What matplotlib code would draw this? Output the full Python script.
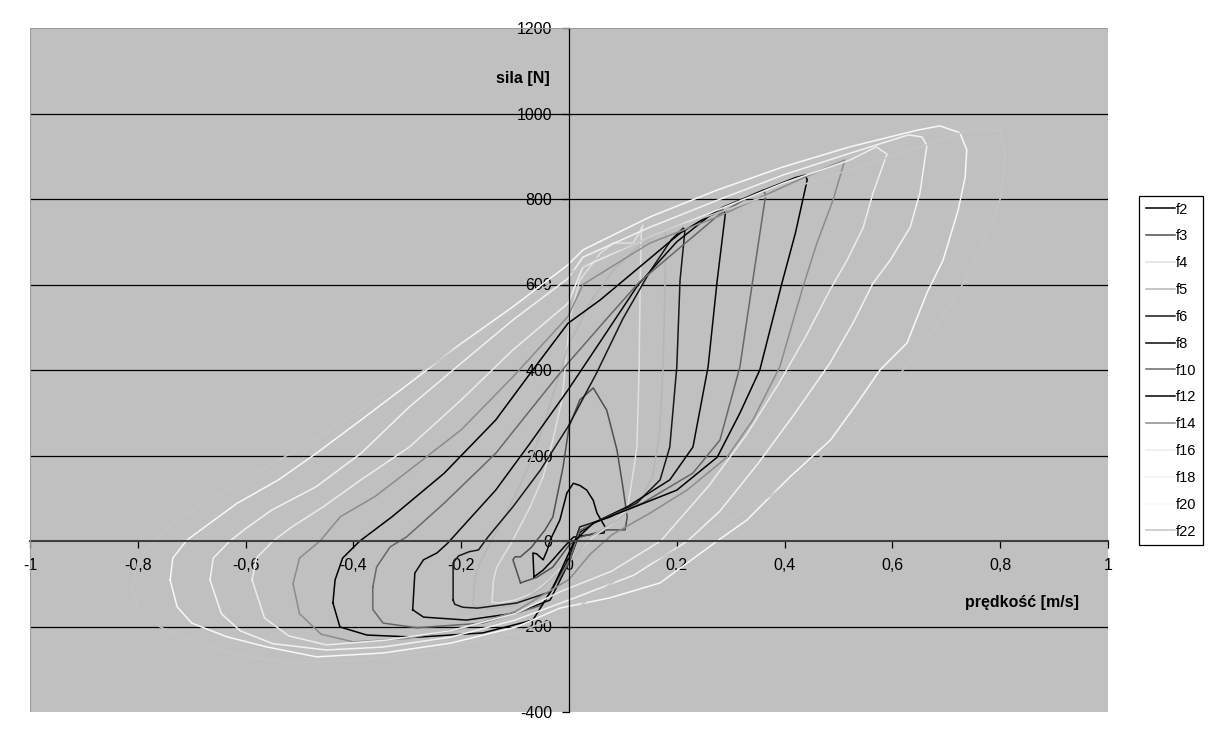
import numpy as np
import matplotlib.pyplot as plt
from matplotlib.ticker import FuncFormatter
from matplotlib.patches import Rectangle

plt.rcParams['font.family'] = ['Liberation Sans', 'DejaVu Sans']

# velocity [m/s] / force [N] loops
f2_v = [-0.065, -0.067, -0.060, -0.048, -0.040, -0.035, -0.017, -0.004, 0.008, 0.020, 0.033, 0.045,
        0.052, 0.067, 0.065, 0.040, 0.008, -0.010, -0.030, -0.048, -0.065]
f2_F = [-84, -28, -30, -44, -20, 2, 49, 112, 135, 130, 119, 95, 65, 33, 19, 15, 9, -15, -44, -68, -84]

f3_v = [-0.090, -0.104, -0.100, -0.090, -0.070, -0.045, -0.030, -0.011, 0.000, 0.020, 0.045, 0.070,
        0.089, 0.100, 0.108, 0.104, 0.070, 0.020, 0.000, -0.030, -0.060, -0.090]
f3_F = [-98, -44, -37, -37, -15, 25, 56, 173, 267, 330, 358, 306, 213, 126, 56, 26, 26, 9, -10, -61, -85, -98]

f4_v = [-0.143, -0.140, -0.134, -0.104, -0.072, -0.048, -0.030, -0.013, -0.004, 0.002, 0.020, 0.058,
        0.082, 0.119, 0.130, 0.137, 0.134, 0.132, 0.130, 0.126, 0.117, 0.108, 0.080, 0.040, 0.000,
        -0.040, -0.067, -0.100, -0.130, -0.143]
f4_F = [-143, -91, -61, 2, 80, 150, 236, 330, 447, 524, 610, 673, 697, 697, 720, 739, 720, 600, 400,
        220, 143, 73, 40, 5, -45, -95, -122, -138, -145, -143]

f5_v = [-0.178, -0.175, -0.165, -0.140, -0.110, -0.080, -0.050, -0.025, 0.000, 0.040, 0.080, 0.120,
        0.160, 0.178, 0.180, 0.178, 0.175, 0.168, 0.155, 0.130, 0.090, 0.040, 0.000, -0.050, -0.100,
        -0.150, -0.178]
f5_F = [-150, -90, -50, 10, 80, 160, 260, 360, 460, 560, 630, 680, 715, 728, 710, 600, 420, 250, 150,
        90, 50, 10, -50, -110, -150, -160, -150]

f6_v = [-0.215, -0.215, -0.205, -0.185, -0.168, -0.150, -0.104, -0.053, -0.002, 0.050, 0.100, 0.150,
        0.190, 0.212, 0.215, 0.206, 0.200, 0.187, 0.169, 0.126, 0.076, 0.020, 0.000, -0.035, -0.097,
        -0.170, -0.197, -0.212, -0.215]
f6_F = [-138, -51, -35, -25, -21, 10, 80, 166, 267, 390, 520, 630, 705, 732, 725, 610, 407, 220, 143,
        89, 56, 33, -40, -119, -145, -157, -155, -148, -138]

f8_v = [-0.290, -0.286, -0.270, -0.245, -0.225, -0.200, -0.136, -0.072, -0.002, 0.060, 0.128, 0.200,
        0.260, 0.286, 0.290, 0.275, 0.258, 0.230, 0.187, 0.108, 0.050, 0.020, 0.000, -0.035, -0.097,
        -0.190, -0.270, -0.290]
f8_F = [-161, -75, -44, -28, -5, 30, 119, 229, 353, 470, 599, 700, 760, 774, 765, 610, 407, 220, 143,
        80, 45, 20, -50, -138, -168, -185, -178, -161]

f10_v = [-0.364, -0.357, -0.332, -0.301, -0.232, -0.136, -0.072, -0.002, 0.070, 0.130, 0.200, 0.280,
         0.340, 0.360, 0.365, 0.341, 0.317, 0.280, 0.230, 0.137, 0.060, 0.020, 0.000, -0.050, -0.160,
         -0.282, -0.345, -0.364, -0.364]
f10_F = [-108, -61, -14, 10, 88, 205, 306, 416, 520, 605, 680, 765, 810, 821, 810, 610, 407, 236, 159,
         89, 50, 25, -50, -150, -192, -203, -192, -160, -108]

f12_v = [-0.438, -0.434, -0.420, -0.388, -0.328, -0.232, -0.136, -0.072, -0.002, 0.058, 0.132, 0.206,
         0.286, 0.360, 0.420, 0.438, 0.442, 0.420, 0.395, 0.354, 0.317, 0.275, 0.200, 0.108, 0.045,
         0.010, -0.030, -0.067, -0.160, -0.282, -0.375, -0.425, -0.438]
f12_F = [-145, -91, -40, 0, 57, 158, 283, 392, 509, 564, 642, 720, 781, 820, 850, 856, 845, 720, 603,
         400, 299, 196, 119, 73, 42, 0, -110, -185, -215, -225, -220, -201, -145]

f14_v = [-0.512, -0.500, -0.462, -0.424, -0.360, -0.296, -0.200, -0.104, -0.002, 0.026, 0.150, 0.275,
         0.397, 0.480, 0.512, 0.508, 0.490, 0.460, 0.434, 0.391, 0.341, 0.293, 0.220, 0.150, 0.080,
         0.040, 0.000, -0.100, -0.200, -0.300, -0.400, -0.460, -0.500, -0.512]
f14_F = [-100, -40, 0, 57, 104, 166, 260, 384, 525, 600, 697, 758, 828, 875, 891, 875, 798, 697, 594,
         407, 283, 196, 120, 65, 15, -30, -90, -165, -205, -228, -236, -218, -170, -100]

f16_v = [-0.588, -0.580, -0.549, -0.514, -0.456, -0.386, -0.296, -0.200, -0.104, -0.002, 0.026, 0.150,
         0.275, 0.397, 0.521, 0.570, 0.590, 0.564, 0.546, 0.516, 0.484, 0.440, 0.390, 0.330, 0.260,
         0.170, 0.080, -0.017, -0.100, -0.220, -0.340, -0.450, -0.520, -0.565, -0.588]
f16_F = [-91, -40, 0, 33, 80, 143, 220, 330, 447, 556, 641, 711, 774, 837, 891, 922, 905, 814, 734,
         657, 587, 480, 370, 250, 130, 0, -70, -119, -170, -210, -232, -243, -222, -180, -91]

f18_v = [-0.666, -0.660, -0.629, -0.603, -0.552, -0.469, -0.386, -0.296, -0.200, -0.104, -0.002, 0.026,
         0.150, 0.275, 0.397, 0.521, 0.630, 0.655, 0.664, 0.651, 0.633, 0.596, 0.564, 0.527, 0.484,
         0.420, 0.350, 0.280, 0.220, 0.120, 0.000, -0.100, -0.220, -0.345, -0.450, -0.550, -0.610,
         -0.645, -0.666]
f18_F = [-91, -40, 0, 26, 72, 127, 205, 314, 416, 517, 614, 664, 734, 797, 856, 907, 950, 945, 925,
         814, 734, 657, 603, 510, 416, 300, 180, 70, 0, -80, -138, -185, -225, -248, -255, -240, -210,
         -170, -91]

f20_v = [-0.740, -0.735, -0.709, -0.667, -0.616, -0.539, -0.469, -0.386, -0.296, -0.200, -0.104, -0.002,
         0.026, 0.150, 0.275, 0.397, 0.521, 0.646, 0.688, 0.725, 0.738, 0.735, 0.722, 0.694, 0.664,
         0.627, 0.577, 0.535, 0.485, 0.410, 0.330, 0.275, 0.169, 0.076, -0.017, -0.097, -0.220, -0.345,
         -0.468, -0.560, -0.635, -0.700, -0.727, -0.740]
f20_F = [-91, -40, 2, 41, 88, 143, 205, 283, 369, 462, 548, 646, 681, 758, 821, 875, 922, 961, 971, 955,
         915, 851, 774, 657, 580, 463, 400, 323, 236, 150, 49, 0, -98, -133, -157, -201, -239, -262,
         -271, -248, -224, -192, -154, -91]

f22_v = [-0.810, -0.800, -0.770, -0.720, -0.640, -0.550, -0.450, -0.350, -0.250, -0.150, -0.050, 0.050,
         0.200, 0.350, 0.500, 0.650, 0.750, 0.800, 0.810, 0.800, 0.770, 0.730, 0.680, 0.620, 0.550,
         0.470, 0.380, 0.300, 0.200, 0.100, 0.000, -0.100, -0.250, -0.400, -0.520, -0.620, -0.700,
         -0.760, -0.800, -0.810]
f22_F = [-110, -50, 0, 55, 115, 180, 255, 335, 415, 500, 590, 660, 735, 800, 860, 920, 965, 960, 900,
         800, 700, 600, 500, 400, 300, 200, 110, 50, -20, -80, -170, -215, -255, -280, -285, -265, -235,
         -200, -160, -110]

labels = ['f2', 'f3', 'f4', 'f5', 'f6', 'f8', 'f10', 'f12', 'f14', 'f16', 'f18', 'f20', 'f22']
colors = ['#000000', '#505050', '#e0e0e0', '#b6b6b6', '#181818', '#080808', '#686868', '#000000',
          '#8c8c8c', '#ececec', '#f2f2f2', '#f8f8f8', '#c4c4c4']
series_v = [f2_v, f3_v, f4_v, f5_v, f6_v, f8_v, f10_v, f12_v, f14_v, f16_v, f18_v, f20_v, f22_v]
series_F = [f2_F, f3_F, f4_F, f5_F, f6_F, f8_F, f10_F, f12_F, f14_F, f16_F, f18_F, f20_F, f22_F]

W, H = 1211, 739
fig = plt.figure(figsize=(W / 100, H / 100), dpi=100)
ax = fig.add_axes([30 / W, 27 / H, 1078 / W, 684 / H])
ax.set_facecolor('#c0c0c0')
ax.set_xlim(-1, 1)
ax.set_ylim(-400, 1200)

for g in [-200, 200, 400, 600, 800, 1000]:
    ax.axhline(g, color='black', lw=0.9, zorder=1)

for lab, v, f, c in zip(labels, series_v, series_F, colors):
    ax.plot(v, f, color=c, lw=1.1, label=lab, zorder=2)

# axes cross at the origin
ax.spines['top'].set_visible(False)
ax.spines['right'].set_visible(False)
ax.spines['left'].set_position(('data', 0))
ax.spines['bottom'].set_position(('data', 0))
ax.spines['left'].set_color('black')
ax.spines['left'].set_linewidth(0.9)
ax.spines['bottom'].set_color('#404040')
ax.spines['bottom'].set_linewidth(1.5)
ax.add_patch(Rectangle((0, 0), 1, 1, transform=ax.transAxes, fill=False,
                       edgecolor='#9a9a9a', lw=0.7, zorder=3))

ax.set_xticks(np.arange(-1, 1.001, 0.2))
ax.set_yticks(np.arange(-400, 1201, 200))
ax.xaxis.set_major_formatter(FuncFormatter(lambda v, p: ('%g' % (round(v, 1) + 0.0)).replace('.', ',')))
ax.yaxis.set_major_formatter(FuncFormatter(lambda v, p: '%d' % v))
ax.tick_params(axis='both', direction='out', length=5, width=0.9, color='black',
               labelsize=11.5, pad=7)

ax.text(-0.035, 1083, 'sila [N]', ha='right', va='center', fontsize=11.5, fontweight='bold')
ax.text(0.84, -143, 'prędkość [m/s]', ha='center', va='center', fontsize=11.5, fontweight='bold')

leg = ax.legend(loc='upper left', bbox_to_anchor=(1139 / W, 1 - 196 / H), bbox_transform=fig.transFigure,
                fancybox=False, edgecolor='black', framealpha=1, fontsize=10.5, handlelength=2.0,
                handletextpad=0.1, labelspacing=0.88, borderpad=0.45, borderaxespad=0)
leg.get_frame().set_linewidth(0.9)

fig.savefig('out.png', dpi=100)
